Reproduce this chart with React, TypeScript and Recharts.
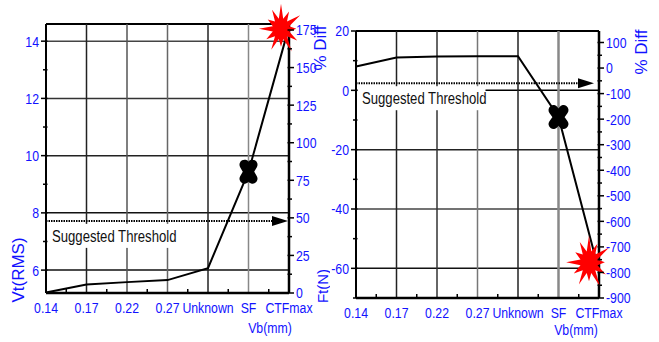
import React from 'react';
import { LineChart, Line, XAxis, YAxis, ReferenceLine } from 'recharts';

const categories = ['0.14', '0.17', '0.22', '0.27', 'Unknown', 'SF', 'CTFmax'];

// left panel: Vt(RMS) against Vb(mm)
const vtValues = [5.22, 5.5, 5.58, 5.65, 6.07, 9.44, 14.5];
const vtTicks = [6, 7, 8, 9, 10, 11, 12, 13, 14];
const vtMajor = [6, 8, 10, 12, 14];
const vtThreshold = 7.72;
const diffTicksA = [0, 12.5, 25, 37.5, 50, 62.5, 75, 87.5, 100, 112.5, 125, 137.5, 150, 162.5, 175];
const diffMajorA = [0, 25, 50, 75, 100, 125, 150, 175];

// right panel: Ft(N) against Vb(mm)
const ftValues = [8, 11.1, 11.4, 11.5, 11.5, -9, -61];
const ftTicks = [-70, -60, -50, -40, -30, -20, -10, 0, 10, 20];
const ftMajor = [-60, -40, -20, 0, 20];
const ftThreshold = 2.4;
const diffTicksB = [-900, -850, -800, -750, -700, -650, -600, -550, -500, -450, -400, -350, -300, -250, -200, -150, -100, -50, 0, 50, 100];
const diffMajorB = [-900, -800, -700, -600, -500, -400, -300, -200, -100, 0, 100];

const xTicks = [0, 0.5, 1, 1.5, 2, 2.5, 3, 3.5, 4, 4.5, 5, 5.5, 6];

const BLUE = '#1212ff';
const SANS = '"Liberation Sans", Arial, sans-serif';
const SQUEEZE = 0.82; // narrow face look

const vtRows = categories.map((name, idx) => ({ idx, name, v: vtValues[idx] }));
const ftRows = categories.map((name, idx) => ({ idx, name, v: ftValues[idx] }));

// horizontally condensed text
function NText({
  x,
  y,
  anchor,
  size,
  fill,
  dy,
  children,
}: {
  x: number;
  y: number;
  anchor: 'start' | 'middle' | 'end';
  size: number;
  fill: string;
  dy?: string;
  children: React.ReactNode;
}) {
  return (
    <text
      transform={`translate(${x},${y}) scale(${SQUEEZE},1)`}
      x={0}
      y={0}
      dy={dy}
      textAnchor={anchor}
      fill={fill}
      fontSize={size}
      fontFamily={SANS}
    >
      {children}
    </text>
  );
}

function makeYTick(side: 'left' | 'right', major: number[]) {
  return (props: any) => {
    const { x, y, payload } = props;
    const isMajor = major.includes(payload.value);
    const dir = side === 'left' ? -1 : 1;
    const len = isMajor ? 5 : 3;
    return (
      <g>
        <line x1={x - dir * 1.5} y1={y} x2={x + dir * len} y2={y} stroke="#000" strokeWidth={1.5} />
        {isMajor && (
          <NText x={x + dir * 7} y={y} dy="0.36em" anchor={side === 'left' ? 'end' : 'start'} size={15} fill={BLUE}>
            {payload.value}
          </NText>
        )}
      </g>
    );
  };
}

const XTick = (props: any) => {
  const { x, y, payload } = props;
  const v = payload.value;
  if (Number.isInteger(v)) {
    return (
      <NText x={x} y={y + 20} anchor="middle" size={15} fill={BLUE}>
        {categories[v]}
      </NText>
    );
  }
  return <line x1={x} y1={y} x2={x} y2={y - 4} stroke="#000" strokeWidth={1.5} />;
};

function Cross({ cx, cy, w, h }: { cx: number; cy: number; w: number; h: number }) {
  return (
    <path
      d={`M${cx - w},${cy - h}L${cx + w},${cy + h}M${cx + w},${cy - h}L${cx - w},${cy + h}`}
      stroke="#000"
      strokeWidth={10}
      strokeLinecap="round"
      fill="none"
    />
  );
}

// uneven spikes for the burst marker
const spikes = [24, 19, 26, 18, 22, 25, 17, 23, 20, 26, 18, 21];

function Star({ cx, cy, sx, sy }: { cx: number; cy: number; sx: number; sy: number }) {
  const pts: string[] = [];
  spikes.forEach((r, i) => {
    const a = (i / spikes.length) * Math.PI * 2 - Math.PI / 2;
    const b = a + Math.PI / spikes.length;
    pts.push(`${cx + Math.cos(a) * r * sx},${cy + Math.sin(a) * r * sy}`);
    pts.push(`${cx + Math.cos(b) * 10 * sx},${cy + Math.sin(b) * 10 * sy}`);
  });
  return <polygon points={pts.join(' ')} fill="#ff0000" />;
}

function makeStarDot(dx: number, dy: number, sx: number, sy: number) {
  return (props: any) => {
    const { cx, cy, index } = props;
    if (categories[index] !== 'CTFmax') return <g key={`s${index}`} />;
    return (
      <g key={`s${index}`}>
        <Star cx={cx + dx} cy={cy + dy} sx={sx} sy={sy} />
      </g>
    );
  };
}

function makeCrossDot(w: number, h: number) {
  return (props: any) => {
    const { cx, cy, index } = props;
    if (categories[index] !== 'SF') return <g key={`c${index}`} />;
    return (
      <g key={`c${index}`}>
        <Cross cx={cx} cy={cy} w={w} h={h} />
      </g>
    );
  };
}

function makeThreshold(inset: number, boxWidth: number) {
  return (props: any) => {
    const { x1, x2, y1 } = props;
    const tip = x2 - inset;
    const head = 16;
    return (
      <g>
        <line x1={x1} y1={y1} x2={tip - head} y2={y1} stroke="#000" strokeWidth={2} strokeDasharray="1.5 1" />
        <polygon points={`${tip - head},${y1 - 5} ${tip},${y1} ${tip - head},${y1 + 5}`} fill="#000" />
        <rect x={x1 + 1.5} y={y1 + 3} width={boxWidth} height={24} fill="#fff" />
        <NText x={x1 + 6} y={y1 + 21} anchor="start" size={16} fill="#111">
          Suggested Threshold
        </NText>
      </g>
    );
  };
}

type Title = { text: string; dx: number; dy: number; rotate?: boolean; size?: number; narrow?: boolean };

function titles(items: Title[]) {
  return (props: any) => {
    const { x, y } = props.viewBox;
    return (
      <g>
        {items.map((t) => {
          const tx = x + t.dx;
          const ty = y + t.dy;
          if (t.narrow) {
            return (
              <NText key={t.text} x={tx} y={ty} anchor="middle" size={t.size ?? 15} fill={BLUE}>
                {t.text}
              </NText>
            );
          }
          return (
            <text
              key={t.text}
              x={tx}
              y={ty}
              dy="0.36em"
              textAnchor="middle"
              transform={t.rotate ? `rotate(-90 ${tx} ${ty})` : undefined}
              fill={BLUE}
              fontSize={t.size ?? 17}
              fontFamily={SANS}
            >
              {t.text}
            </text>
          );
        })}
      </g>
    );
  };
}

const gridA = { v: ['#222', '#555', '#666', '#222', '#888'], h: ['#111', '#111', '#222', '#333', '#444'] };
const gridB = { v: ['#222', '#333', '#777', '#222', '#888'], h: ['#000', '#222', '#444', '#111'] };

function VtChart() {
  return (
    <LineChart width={330} height={342} data={vtRows} margin={{ top: 24, right: 0, bottom: 0, left: 0 }}>
      <XAxis
        dataKey="idx"
        type="number"
        domain={[0, 6]}
        ticks={xTicks}
        interval={0}
        tickSize={0}
        tickMargin={0}
        tick={XTick}
        height={49}
        axisLine={{ stroke: '#000', strokeWidth: 2.5 }}
        label={titles([{ text: 'Vb(mm)', dx: 224, dy: 40, narrow: true }])}
      />
      <YAxis
        domain={[5.2, 14.6]}
        ticks={vtTicks}
        interval={0}
        tickSize={0}
        tickMargin={0}
        tick={makeYTick('left', vtMajor)}
        width={46}
        axisLine={{ stroke: '#000', strokeWidth: 2 }}
        label={titles([{ text: 'Vt(RMS)', dx: 18, dy: 246, rotate: true }])}
      />
      {/* % Diff scale carries no series, so its domain is taken as given */}
      <YAxis
        yAxisId="r"
        orientation="right"
        domain={[0, 179]}
        ticks={diffTicksA}
        interval={0}
        tickSize={0}
        tickMargin={0}
        tick={makeYTick('right', diffMajorA)}
        width={41}
        allowDataOverflow
        axisLine={{ stroke: '#000', strokeWidth: 2.5 }}
        label={titles([
          { text: '% Diff', dx: 31, dy: 24, rotate: true },
          { text: 'Ft(N)', dx: 34, dy: 262, rotate: true, size: 15 },
        ])}
      />
      {vtMajor.map((v, i) => (
        <ReferenceLine key={`h${v}`} y={v} stroke={gridA.h[i]} strokeWidth={1.5} />
      ))}
      <ReferenceLine y={14.6} stroke="#000" strokeWidth={2} />
      {[1, 2, 3, 4, 5].map((i) => (
        <ReferenceLine key={`v${i}`} x={i} stroke={gridA.v[i - 1]} strokeWidth={1.5} />
      ))}
      <ReferenceLine y={vtThreshold} shape={makeThreshold(1, 132)} />
      <Line dataKey="v" stroke="none" dot={makeStarDot(-8, 2, 0.85, 1.05)} activeDot={false} isAnimationActive={false} />
      <Line
        dataKey="v"
        stroke="#000"
        strokeWidth={2}
        dot={makeCrossDot(4, 7)}
        activeDot={false}
        isAnimationActive={false}
      />
    </LineChart>
  );
}

function FtChart() {
  return (
    <LineChart width={330} height={342} data={ftRows} margin={{ top: 31, right: 0, bottom: 0, left: 0 }}>
      <XAxis
        dataKey="idx"
        type="number"
        domain={[0, 6]}
        ticks={xTicks}
        interval={0}
        tickSize={0}
        tickMargin={0}
        tick={XTick}
        height={44}
        axisLine={{ stroke: '#000', strokeWidth: 2.5 }}
        label={titles([{ text: 'Vb(mm)', dx: 220, dy: 37, narrow: true }])}
      />
      <YAxis
        domain={[-70, 20]}
        ticks={ftTicks}
        interval={0}
        tickSize={0}
        tickMargin={0}
        tick={makeYTick('left', ftMajor)}
        width={27}
        axisLine={{ stroke: '#000', strokeWidth: 2 }}
      />
      <YAxis
        yAxisId="r"
        orientation="right"
        domain={[-900, 145]}
        ticks={diffTicksB}
        interval={0}
        tickSize={0}
        tickMargin={0}
        tick={makeYTick('right', diffMajorB)}
        width={60}
        allowDataOverflow
        axisLine={{ stroke: '#000', strokeWidth: 2.5 }}
        label={titles([{ text: '% Diff', dx: 42, dy: 21, rotate: true }])}
      />
      {ftMajor.slice(0, 4).map((v, i) => (
        <ReferenceLine key={`h${v}`} y={v} stroke={gridB.h[3 - i]} strokeWidth={1.5} />
      ))}
      <ReferenceLine y={20} stroke="#000" strokeWidth={2} />
      {[1, 2, 3, 4, 5].map((i) => (
        <ReferenceLine key={`v${i}`} x={i} stroke={gridB.v[i - 1]} strokeWidth={i === 5 ? 2.5 : 1.5} />
      ))}
      <ReferenceLine y={ftThreshold} shape={makeThreshold(5, 128)} />
      <Line dataKey="v" stroke="none" dot={makeStarDot(-10, -9, 0.88, 1.12)} activeDot={false} isAnimationActive={false} />
      <Line
        dataKey="v"
        stroke="#000"
        strokeWidth={2}
        dot={makeCrossDot(5, 7)}
        activeDot={false}
        isAnimationActive={false}
      />
    </LineChart>
  );
}

export default function App() {
  return (
    <div style={{ position: 'absolute', left: 0, top: 0, width: 659, height: 342, background: '#fff', overflow: 'hidden' }}>
      <div style={{ position: 'absolute', left: 0, top: 0 }}>
        <VtChart />
      </div>
      <div style={{ position: 'absolute', left: 329, top: 0 }}>
        <FtChart />
      </div>
    </div>
  );
}
